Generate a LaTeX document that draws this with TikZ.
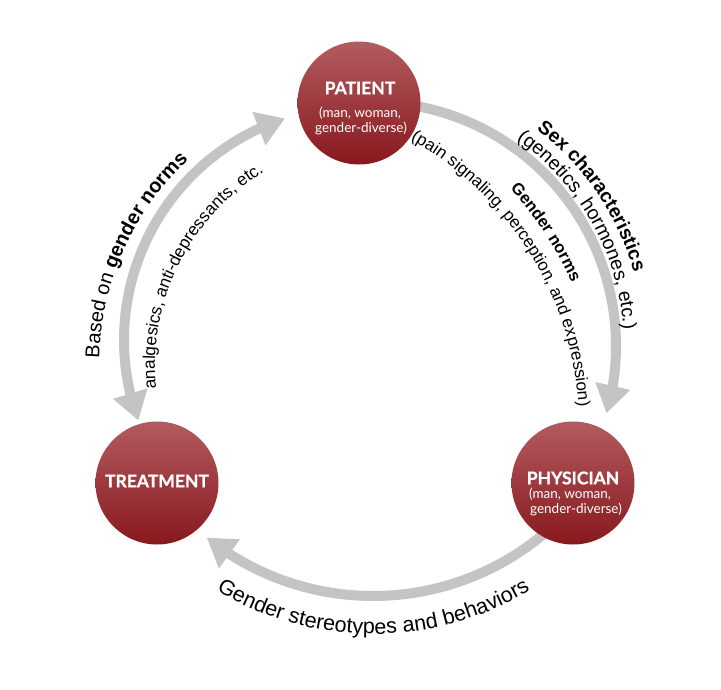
\documentclass[tikz,border=0pt]{standalone}
\usepackage{fontspec}
\setmainfont{Liberation Sans}
\newfontfamily\lato{Lato}[BoldFeatures={FakeBold=0.8}]
\usetikzlibrary{arrows.meta,bending,decorations.text,calc}
\definecolor{arrowgray}{RGB}{196,196,196}
\definecolor{ctop}{RGB}{178,92,96}
\definecolor{cbot}{RGB}{136,24,30}
\begin{document}
\begin{tikzpicture}[x=1pt,y=-1pt,
  conn/.style={draw=arrowgray, line width=10pt},
  bigtip/.tip={Triangle[width=34pt,length=28pt]},
  nodecirc/.style={circle, minimum size=123pt, inner sep=0pt, top color=ctop, bottom color=cbot, draw=none},
  ttl/.style={text=white, font=\lato\bfseries\fontsize{17.5}{20}\selectfont, inner sep=0pt},
  subl/.style={text=white, font=\lato\fontsize{13.5}{15}\selectfont, inner sep=0pt}
]
\useasboundingbox (0,0) rectangle (721,689);
% centres of the arcs
\coordinate (cR) at (372,346);
\coordinate (cL) at (357,340);
\coordinate (cB) at (373,330);
\coordinate (cI) at (252,426);
\coordinate (cLt) at (382,366);
% arrows
\path (cR) ++(-80:244) coordinate (aR);
\path (cL) ++(159.8:233) coordinate (aL);
\path (cB) ++(47:266) coordinate (aB);
\draw[conn, -{bigtip}] (aR) arc[start angle=-80, end angle=16, radius=244];
\draw[conn, {bigtip}-{bigtip}] (aL) arc[start angle=159.8, end angle=252, radius=233];
\draw[conn, -{bigtip}] (aB) arc[start angle=47, end angle=128.7, radius=266];
% curved texts
\path (cR) ++(-52.8:272) coordinate (t1);
\path (cR) ++(-55:252) coordinate (t2);
\path (cI) ++(-42.6:350.5) coordinate (t3);
\path (cI) ++(-61:327) coordinate (t4);
\path (cLt) ++(181.6:283) coordinate (t5);
\path (cLt) ++(174.3:227) coordinate (t6);
\path (cB) ++(121:304) coordinate (t7);
\path[decorate, decoration={text along path, text align=left,
  text={|\fontsize{19.3}{22}\selectfont\bfseries|Sex characteristics}}]
  (t1) arc[start angle=-52.8, end angle=10, radius=272];
\path[decorate, decoration={text along path, text align=left,
  text={|\fontsize{19.5}{22}\selectfont|(genetics, hormones, etc.)}}]
  (t2) arc[start angle=-55, end angle=15, radius=252];
\path[decorate, decoration={text along path, text align=left,
  text={|\fontsize{16.5}{19}\selectfont\bfseries|Gender norms}}]
  (t3) arc[start angle=-42.6, end angle=-5, radius=350.5];
\path[decorate, decoration={text along path, text align=left,
  text={|\fontsize{17}{19}\selectfont|(pain signaling, perception, and expression)}}]
  (t4) arc[start angle=-61, end angle=10, radius=327];
\path[decorate, decoration={text along path, text align=left,
  text={|\fontsize{20}{22}\selectfont|Based on |\fontsize{20}{22}\selectfont\bfseries|gender norms}}]
  (t5) arc[start angle=181.6, end angle=260, radius=283];
\path[decorate, decoration={text along path, text align=left,
  text={|\fontsize{17.2}{19}\selectfont|analgesics, anti-depressants, etc.}}]
  (t6) arc[start angle=174.3, end angle=270, radius=227];
\path[decorate, decoration={text along path, text align=left,
  text={|\fontsize{21.5}{24}\selectfont|Gender stereotypes and behaviors}}]
  (t7) arc[start angle=121, end angle=30, radius=304];
% circles
\node[nodecirc] (patient) at (359,103) {};
\node[nodecirc] (treatment) at (157,483) {};
\node[nodecirc] (physician) at (573,483) {};
\node[ttl] (patientT) at (360,88) {PATIENT};
\node[subl] (patientA) at (360,113) {(man, woman,};
\node[subl] (patientB) at (361,128) {gender-diverse)};
\node[ttl] (treatmentT) at (157,481) {TREATMENT};
\node[ttl] (physicianT) at (573,478) {PHYSICIAN};
\node[subl] (physicianA) at (570,494) {(man, woman,};
\node[subl] (physicianB) at (576,509) {gender-diverse)};
\end{tikzpicture}
\end{document}
